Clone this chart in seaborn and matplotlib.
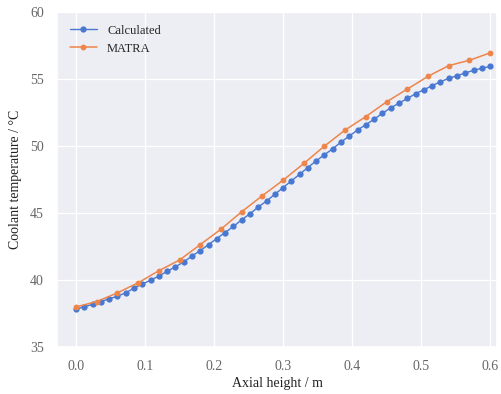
# Coolant temperature along the axial height: calculated vs MATRA

import numpy as np
import pandas as pd
import matplotlib
matplotlib.use("Agg")
import matplotlib.pyplot as plt
import seaborn as sns


# ============================================
# Data
# ============================================

calc_height = [0.000, 0.012, 0.024, 0.036, 0.048, 0.060, 0.072, 0.084, 0.096, 0.108,
               0.120, 0.132, 0.144, 0.156, 0.168, 0.180, 0.192, 0.204, 0.216, 0.228,
               0.240, 0.252, 0.264, 0.276, 0.288, 0.300, 0.312, 0.324, 0.336, 0.348,
               0.360, 0.372, 0.384, 0.396, 0.408, 0.420, 0.432, 0.444, 0.456, 0.468,
               0.480, 0.492, 0.504, 0.516, 0.528, 0.540, 0.552, 0.564, 0.576, 0.588,
               0.600]
calc_temp = [37.85, 38.00, 38.20, 38.40, 38.60, 38.80, 39.05, 39.40, 39.70, 40.00,
             40.30, 40.65, 41.00, 41.35, 41.80, 42.20, 42.65, 43.10, 43.55, 44.00,
             44.50, 44.95, 45.45, 45.90, 46.40, 46.90, 47.40, 47.90, 48.40, 48.90,
             49.35, 49.80, 50.30, 50.75, 51.20, 51.60, 52.00, 52.45, 52.85, 53.20,
             53.55, 53.90, 54.20, 54.50, 54.80, 55.05, 55.25, 55.45, 55.65, 55.80,
             55.95]

matra_height = [0.00, 0.03, 0.06, 0.09, 0.12, 0.15, 0.18, 0.21, 0.24, 0.27, 0.30,
                0.33, 0.36, 0.39, 0.42, 0.45, 0.48, 0.51, 0.54, 0.57, 0.60]
matra_temp = [38.00, 38.40, 39.05, 39.80, 40.70, 41.50, 42.65, 43.80, 45.10, 46.30, 47.45,
              48.70, 50.00, 51.20, 52.20, 53.30, 54.25, 55.20, 56.00, 56.40, 56.95]

x_ticks = [0.0, 0.1, 0.2, 0.3, 0.4, 0.5, 0.6]
y_ticks = [35, 40, 45, 50, 55, 60]

calc = pd.DataFrame({"h": calc_height, "T": calc_temp})
matra = pd.DataFrame({"h": matra_height, "T": matra_temp})


# ============================================
# Plot
# ============================================

sns.set_theme(style="darkgrid", rc={"axes.facecolor": "#EDEDF4",
                                    "grid.linewidth": 0.9})
plt.rcParams["font.family"] = ["Liberation Serif", "DejaVu Serif"]

colors = sns.color_palette("muted")

fig, ax = plt.subplots(figsize=(5.01, 3.94), dpi=100)
fig.subplots_adjust(left=0.114, right=0.992, top=0.9695, bottom=0.119)

sns.lineplot(data=calc, x="h", y="T", ax=ax, color=colors[0], marker="o",
             markersize=4.5, markeredgewidth=0, linewidth=1.0, label="Calculated")
sns.lineplot(data=matra, x="h", y="T", ax=ax, color=colors[1], marker="o",
             markersize=4.2, markeredgewidth=0, linewidth=1.1, label="MATRA")

ax.set_xlim(-0.0275, 0.61)
ax.set_ylim(35, 60)
ax.set_xticks(x_ticks)
ax.set_xticklabels([f"{t:.1f}" for t in x_ticks])
ax.set_yticks(y_ticks)
ax.tick_params(labelsize=10, labelcolor="#666666")

ax.set_xlabel("Axial height / m", fontsize=10, labelpad=3, color="#222222")
ax.set_ylabel("Coolant temperature / °C", fontsize=10, labelpad=6, color="#222222")

leg = ax.legend(loc="upper left", fontsize=9, frameon=False,
                handlelength=2.2, borderaxespad=0.6)

fig.savefig("out.png", dpi=100)
